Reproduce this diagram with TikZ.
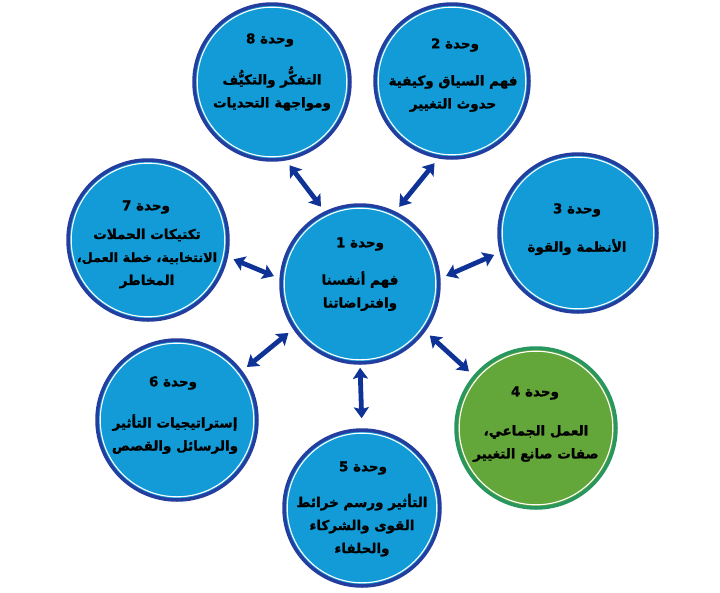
\documentclass[tikz,border=0pt]{standalone}
\usepackage{fontspec}
\TeXXeTstate=1
\newfontfamily\arfont[Script=Arabic, FakeBold=1.2]{DejaVu Sans Bold}
\usetikzlibrary{arrows.meta}
\definecolor{ufill}{RGB}{18,155,215}
\definecolor{udark}{RGB}{35,62,158}
\definecolor{uarrow}{RGB}{14,50,150}
\definecolor{gfill}{RGB}{99,166,58}
\definecolor{gdark}{RGB}{40,150,95}
\newcommand\rtlx[1]{\beginR#1\endR}
\begin{document}
\begin{tikzpicture}[x=1pt,y=-1pt,
  unit/.style={circle, inner sep=0pt, fill=ufill, draw=udark, line width=3.5pt},
  gunit/.style={unit, fill=gfill, draw=gdark},
  ttl/.style={font=\arfont\fontsize{13.5pt}{16pt}\selectfont, inner sep=0pt},
  bdy/.style={font=\arfont\fontsize{13.5pt}{23pt}\selectfont, align=center, inner sep=0pt},
  dbl/.style={draw=uarrow, line width=4.8pt, {Stealth[inset=2pt,width=15pt,length=11pt]}-{Stealth[inset=2pt,width=15pt,length=11pt]}, shorten <=6pt, shorten >=6pt}]
\useasboundingbox (0,0) rectangle (720,592);

\foreach \n/\x/\y/\d/\s in {8/272/82/156/unit, 2/452/81/154/unit, 7/148/240/160/unit, 3/578/233/158/unit, 1/360/284/158/unit, 6/177/420/160/unit, 4/536/428/160/gunit, 5/362/508/156/unit}{
  \node[\s, minimum size=\d pt] (c\n) at (\x,\y) {};
  \draw[white, line width=1.1pt] (c\n.center) circle (\d/2-3.2);
}

% texts
\node[ttl] (t8) at (270,40) {\rtlx{وحدة 8}};
\node[bdy] (b8) at (272,88.5) {\rtlx{التفكُّر والتكيُّف}\\\rtlx{ومواجهة التحديات}};

\node[ttl] (t2) at (455,45) {\rtlx{وحدة 2}};
\node[bdy] (b2) at (453,93.5) {\rtlx{فهم السياق وكيفية}\\\rtlx{حدوث التغيير}};

\node[ttl] (t7) at (146,207) {\rtlx{وحدة 7}};
\node[bdy] (b7) at (147,258.5) {\rtlx{تكتيكات الحملات}\\{\fontsize{12.8pt}{23pt}\selectfont\rtlx{الانتخابية، خطة العمل،}}\\\rtlx{المخاطر}};

\node[ttl] (t3) at (577,210) {\rtlx{وحدة 3}};
\node[bdy] (b3) at (577,247) {\rtlx{الأنظمة والقوة}};

\node[ttl] (t1) at (360,244) {\rtlx{وحدة 1}};
\node[bdy] (b1) at (360,291) {\rtlx{فهم أنفسنا}\\\rtlx{وافتراضاتنا}};

\node[ttl] (t6) at (173,383) {\rtlx{وحدة 6}};
\node[bdy] (b6) at (175,434) {\rtlx{إستراتيجيات التأثير}\\\rtlx{والرسائل والقصص}};

\node[ttl] (t4) at (535,393) {\rtlx{وحدة 4}};
\node[bdy] (b4) at (536,443.5) {\rtlx{العمل الجماعي،}\\\rtlx{صفات صانع التغيير}};

\node[ttl] (t5) at (363,468) {\rtlx{وحدة 5}};
\node[bdy] (b5) at (362,525) {\rtlx{التأثير ورسم خرائط}\\\rtlx{القوى والشركاء}\\\rtlx{والحلفاء}};

% arrows
\draw[dbl] (c1.116) -- (c8.-80);
\draw[dbl] (c1.64) -- (c2.-100);
\draw[dbl] (c1.176) -- (c7.-12);
\draw[dbl] (c1.4) -- (c3.-166);
\draw[dbl] (c1.-146) -- (c6.37);
\draw[dbl] (c1.-36) -- (c4.140);
\draw[dbl, shorten <=3pt, shorten >=10pt] (c1.-90) -- (c5.90);
\end{tikzpicture}
\end{document}
